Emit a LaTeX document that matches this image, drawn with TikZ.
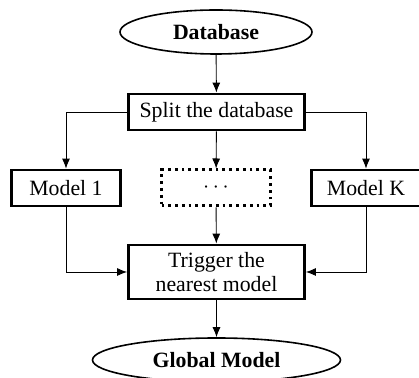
\documentclass[tikz,border=0pt]{standalone}
\usepackage{fontspec}
\setmainfont{Liberation Serif}
\usetikzlibrary{shapes.geometric,arrows.meta}
\begin{document}
\begin{tikzpicture}[x=0.5pt,y=-0.5pt,
  font=\fontsize{10.9}{12.4}\selectfont,
  ell/.style={ellipse,draw,line width=0.8pt,inner sep=0pt,font=\fontsize{10.9}{12.4}\selectfont\bfseries},
  box/.style={rectangle,draw,line width=1.4pt,inner sep=0pt,minimum width=88pt,minimum height=18pt,align=center},
  mbox/.style={rectangle,draw,line width=1.4pt,inner sep=0pt,minimum width=54.5pt,minimum height=18pt},
  dbox/.style={mbox,dotted,line width=1.5pt},
  arr/.style={-{Latex[length=5pt,width=4pt]},line width=0.45pt}]
\useasboundingbox (0,0) rectangle (419,378);
\node[ell,minimum width=96pt,minimum height=22pt] (db) at (216,32) {Database};
\node[box] (split) at (216.5,112) {Split the database};
\node[mbox] (m1) at (66,188) {Model 1};
\node[dbox] (dots) at (216,188) {$\cdots$};
\node[mbox] (mk) at (366,188) {Model K};
\node[box,minimum height=27pt] (trig) at (216.5,272) {Trigger the\\nearest model};
\node[ell,minimum width=124pt,minimum height=22pt] (gm) at (216.5,360) {Global Model};
\draw[arr] (db) -- (split);
\draw[arr] (split.west) -| (m1.north);
\draw[arr] (split.east) -| (mk.north);
\draw[arr] (split) -- (dots);
\draw[arr] (dots) -- (trig);
\draw[arr] (m1.south) |- (trig.west);
\draw[arr] (mk.south) |- (trig.east);
\draw[arr] (trig) -- (gm);
\end{tikzpicture}
\end{document}
